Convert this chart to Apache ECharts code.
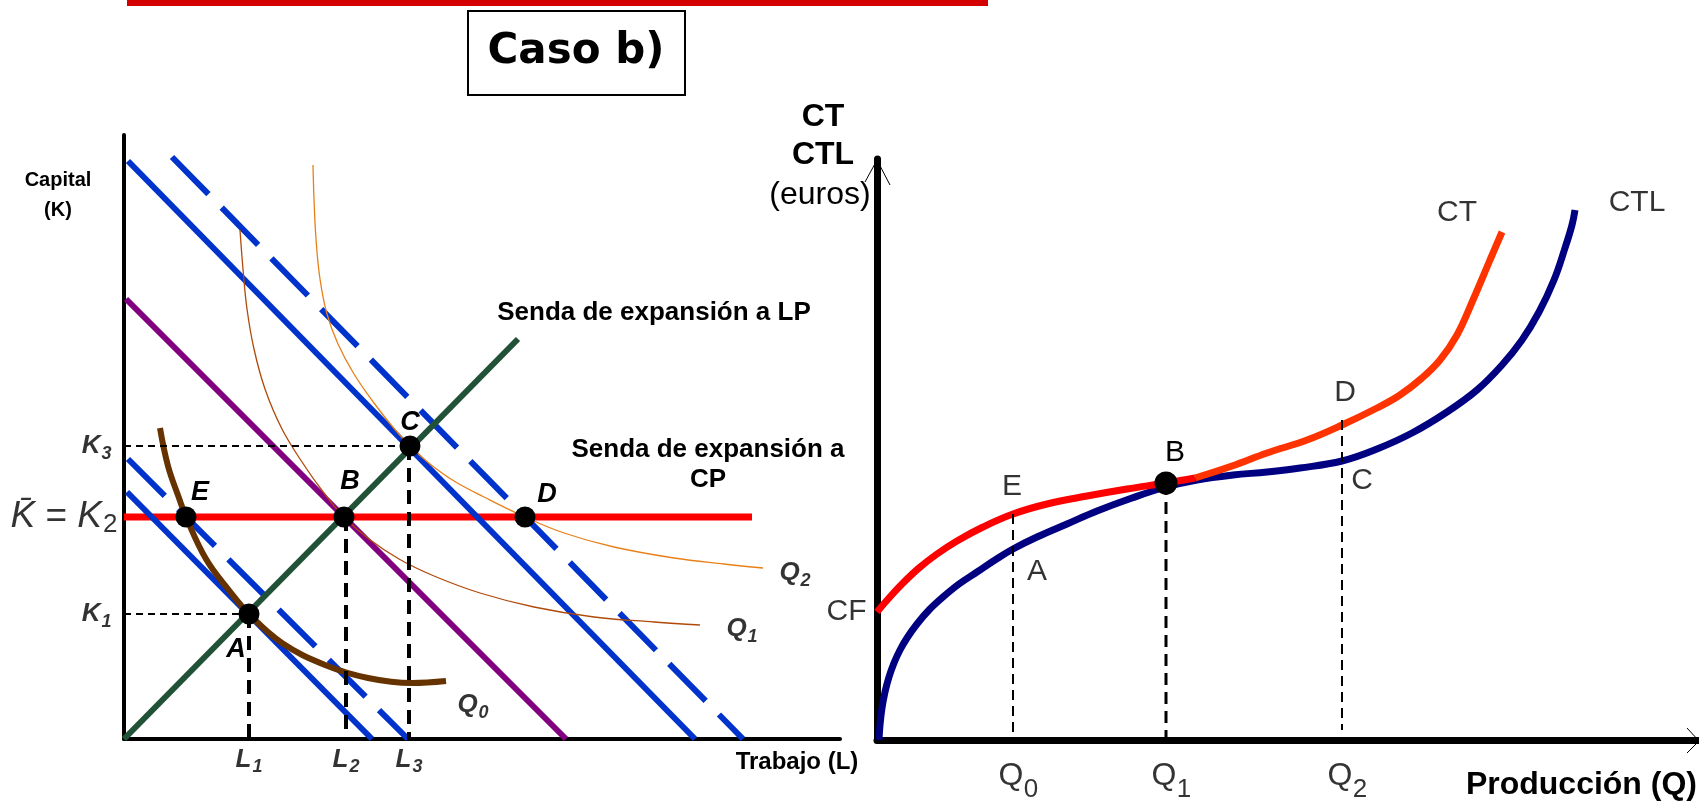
<!DOCTYPE html>
<html><head><meta charset="utf-8">
<script src="https://cdn.jsdelivr.net/npm/echarts@6/dist/echarts.min.js"></script>
<style>html,body{margin:0;padding:0;background:#fff;}#c{width:1699px;height:808px;}</style>
</head><body><div id="c"></div>
<script>
// ================= LEFT PANEL: isoquants / isocosts (L, K units) =================
const L_MAX = 716, K_MAX = 604;
const kTicks = [125, 222, 293];          // K1, K̄ = K2, K3
const lTicks = [125, 222, 285];          // L1, L2, L3
const ptA = [125, 125], ptB = [220, 222], ptC = [286, 293], ptD = [401, 222], ptE = [62, 222];
const sendaLP = [[0, 0], [394, 400]];
const sendaCP = [[0, 222], [628, 222]];
const isocostA = [[3, 247], [248, 0]];
const isocostE = [[4, 280], [284, 0]];
const isocostB = [[2, 440], [442, 0]];
const isocostC = [[4, 578], [571, 0]];
const isocostD = [[48, 582], [619, 0]];
const isoQ0 = [[36,311],[44,273],[55,241],[62,222],[82,180],[104,150],[125,125],[158,96],[201,74],[244,61],[288,56],[322,58]];
const isoQ1 = [[116,509],[119,470],[123,430],[130,390],[141,350],[158,310],[180,274],[200,246],[220,222],[245,200],[275,180],[310,163],[356,146],[410,132],[470,122],[530,117],[576,114]];
const isoQ2 = [[189,574],[190,540],[192,500],[196,460],[203,425],[214,395],[230,365],[250,336],[268,313],[286,293],[306,275],[330,258],[360,242],[401,222],[440,206],[490,192],[550,181],[600,175],[639,171]];

// ================= RIGHT PANEL: cost curves (Q, euros) =================
const Q_MAX = 822, C_MAX = 581;
const qTicks = [136, 289, 465];          // Q0, Q1, Q2
const CF = 128;
const curveCTL = [[2,0],[3,15],[5,32],[8,48],[12,63],[17,77],[23,90],[30,102],[40,116],[52,130],[66,143],[82,156],[100,168],[118,180],[136,191],[160,203],[190,216],[220,229],[255,242],[289,253],[320,260],[356,265],[390,268],[423,272],[465,279],[500,291],[535,307],[570,328],[600,350],[625,375],[645,400],[662,428],[677,460],[688,492],[695,515],[698,530]];
const curveCTred = [[0,128],[12,142],[26,157],[42,172],[60,186],[80,199],[106,213],[136,226],[170,236],[210,244],[250,251],[289,257],[318,262]];
const curveCTorange = [[318,262],[355,274],[390,287],[430,300],[465,315],[500,332],[523,345],[545,362],[563,380],[580,405],[596,440],[613,480],[625,508]];
const rE = [136, 226], rA = [136, 191], rB = [289, 257], rC = [465, 279], rD = [465, 315];

// ================= helpers =================
const SANS = '"Liberation Sans", Arial, sans-serif';
function line(gi, data, color, width, type, extra) {
  return Object.assign({
    type: 'line', xAxisIndex: gi, yAxisIndex: gi, data: data, showSymbol: false, symbol: 'none',
    silent: true, animation: false, clip: false,
    lineStyle: { color: color, width: width, type: type || 'solid', cap: 'butt' }
  }, extra || {});
}
const hidden = { color: 'rgba(0,0,0,0)' };
const leftRich = {
  n: { fontSize: 26, fontWeight: 'bold', fontStyle: 'italic', fontFamily: SANS, color: '#000', verticalAlign: 'middle' },
  s: { fontSize: 18, fontWeight: 'bold', fontStyle: 'italic', fontFamily: SANS, color: '#000', padding: [16, 0, 0, 1], verticalAlign: 'middle' },
  k: { fontSize: 37, fontStyle: 'italic', fontFamily: SANS, color: '#000', verticalAlign: 'middle' },
  e: { fontSize: 37, fontFamily: SANS, color: '#000', verticalAlign: 'middle' },
  s2: { fontSize: 26, fontFamily: SANS, color: '#000', padding: [16, 0, 0, 1], verticalAlign: 'middle' }
};
const ptLabel = { show: true, position: 'inside', fontSize: 27, fontWeight: 'bold', fontStyle: 'italic', fontFamily: SANS, color: '#000' };
const rLabel = { show: true, position: 'inside', fontSize: 30, fontFamily: SANS, color: '#000' };

function lbl(gi, items) {
  return {
    type: 'scatter', xAxisIndex: gi, yAxisIndex: gi, silent: true, animation: false, clip: false,
    symbolSize: 1, itemStyle: hidden, z: 20,
    data: items
  };
}
const dotStyle = { color: '#000', opacity: 1 };
const dashV = [14, 8];
const SMOOTH = 0.4;

const series = [
  // left panel
  line(0, sendaCP, '#FF0000', 7),
  line(0, isocostA, '#0033CC', 6),
  line(0, isocostE, '#0033CC', 6, [52, 19]),
  line(0, isocostC, '#0033CC', 6),
  line(0, isocostD, '#0033CC', 6, [52, 19]),
  line(0, isocostB, '#800080', 6),
  line(0, sendaLP, '#215238', 6),
  line(0, isoQ0, '#663300', 6, null, { smooth: SMOOTH }),
  line(0, isoQ1, '#B04A0A', 1.3, null, { smooth: SMOOTH }),
  line(0, isoQ2, '#E8801A', 1.3, null, { smooth: SMOOTH }),
  line(0, [[0, ptC[1]], ptC], '#000', 2, [7, 5]),
  line(0, [[0, ptA[1]], ptA], '#000', 2, [7, 5]),
  line(0, [[lTicks[0], ptA[1]], [lTicks[0], 0]], '#000', 4, dashV),
  line(0, [[lTicks[1], ptB[1]], [lTicks[1], 0]], '#000', 4, dashV),
  line(0, [[lTicks[2], ptC[1]], [lTicks[2], 0]], '#000', 4, dashV),
  {
    type: 'scatter', xAxisIndex: 0, yAxisIndex: 0, silent: true, animation: false, clip: false, z: 15,
    symbolSize: 21, itemStyle: dotStyle,
    data: [
      { value: ptE, label: Object.assign({}, ptLabel, { formatter: 'E', offset: [14, -24] }) },
      { value: ptB, label: Object.assign({}, ptLabel, { formatter: 'B', offset: [6, -35] }) },
      { value: ptC, label: Object.assign({}, ptLabel, { formatter: 'C', offset: [0, -23] }) },
      { value: ptD, label: Object.assign({}, ptLabel, { formatter: 'D', offset: [22, -22] }) },
      { value: ptA, label: Object.assign({}, ptLabel, { formatter: 'A', offset: [-13, 36] }) }
    ]
  },
  lbl(0, [
    { value: [0, kTicks[0]], label: { show: true, position: 'left', distance: 12, formatter: '{n|K}{s|1}', rich: leftRich } },
    { value: [0, kTicks[1]], label: { show: true, position: 'left', distance: 6, formatter: '{k|K\u0304}{e| = }{k|K}{s2|2}', rich: leftRich } },
    { value: [0, kTicks[2]], label: { show: true, position: 'left', distance: 12, formatter: '{n|K}{s|3}', rich: leftRich } },
    { value: [lTicks[0], 0], label: { show: true, position: 'bottom', distance: 3, formatter: '{n|L}{s|1}', rich: leftRich } },
    { value: [lTicks[1], 0], label: { show: true, position: 'bottom', distance: 3, formatter: '{n|L}{s|2}', rich: leftRich } },
    { value: [lTicks[2], 0], label: { show: true, position: 'bottom', distance: 3, formatter: '{n|L}{s|3}', rich: leftRich } },
    { value: isoQ0[isoQ0.length - 1], label: { show: true, position: 'inside', offset: [27, 24], formatter: '{n|Q}{s|0}', rich: leftRich } },
    { value: isoQ1[isoQ1.length - 1], label: { show: true, position: 'inside', offset: [42, 4], formatter: '{n|Q}{s|1}', rich: leftRich } },
    { value: isoQ2[isoQ2.length - 1], label: { show: true, position: 'inside', offset: [32, 5], formatter: '{n|Q}{s|2}', rich: leftRich } }
  ]),

  // right panel
  line(1, curveCTL, '#000080', 7, null, { smooth: SMOOTH }),
  line(1, curveCTred, '#FF0000', 7, null, { smooth: SMOOTH }),
  line(1, curveCTorange, '#FF3300', 7, null, { smooth: SMOOTH }),
  line(1, [rE, [qTicks[0], 0]], '#000', 2, [10, 6]),
  line(1, [rB, [qTicks[1], 0]], '#000', 3, [12, 7]),
  line(1, [[qTicks[2], rD[1] + 5], [qTicks[2], 10]], '#000', 2, [10, 6]),
  {
    type: 'scatter', xAxisIndex: 1, yAxisIndex: 1, silent: true, animation: false, clip: false, z: 15,
    symbolSize: 23, itemStyle: dotStyle,
    data: [{ value: rB, label: Object.assign({}, rLabel, { formatter: 'B', offset: [9, -30] }) }]
  },
  lbl(1, [
    { value: rE, label: Object.assign({}, rLabel, { formatter: 'E', offset: [-1, -27] }) },
    { value: rA, label: Object.assign({}, rLabel, { formatter: 'A', offset: [24, 23] }) },
    { value: rD, label: Object.assign({}, rLabel, { formatter: 'D', offset: [3, -32] }) },
    { value: rC, label: Object.assign({}, rLabel, { formatter: 'C', offset: [20, 20] }) },
    { value: curveCTorange[curveCTorange.length - 1], label: Object.assign({}, rLabel, { formatter: 'CT', offset: [-45, -19] }) },
    { value: curveCTL[curveCTL.length - 1], label: Object.assign({}, rLabel, { formatter: 'CTL', offset: [62, -7] }) },
    { value: [0, CF], label: { show: true, position: 'left', distance: 10, formatter: 'CF', fontSize: 30, fontFamily: SANS, color: '#000' } }
  ].concat(qTicks.map(function (q) {
    return { value: [q, 0], label: { show: true, position: 'inside', offset: [-2, 36], formatter: 'Q', fontSize: 32, fontFamily: SANS, color: '#000' } };
  })).concat(qTicks.map(function (q, i) {
    return { value: [q, 0], label: { show: true, position: 'inside', offset: [18, 50], formatter: String(i), fontSize: 26, fontFamily: SANS, color: '#000' } };
  })))
];

function axis(gi, max, w) {
  return {
    gridIndex: gi, type: 'value', min: 0, max: max,
    axisLine: { show: true, onZero: false, lineStyle: { color: '#000', width: w } },
    axisTick: { show: false }, axisLabel: { show: false }, splitLine: { show: false }
  };
}

function txt(text, x, y, font, align) {
  return {
    type: 'text', silent: true, z: 100,
    style: { text: text, x: x, y: y, font: font, fill: '#000',
      textAlign: align || 'center', align: align || 'center',
      textVerticalAlign: 'middle', verticalAlign: 'middle' }
  };
}

const option = {
  animation: false,
  backgroundColor: '#fff',
  grid: [
    { left: 124, top: 135, width: L_MAX, height: K_MAX },
    { left: 877, top: 159, width: Q_MAX, height: C_MAX }
  ],
  xAxis: [axis(0, L_MAX, 4), axis(1, Q_MAX, 7)],
  yAxis: [axis(0, K_MAX, 4), axis(1, C_MAX, 7)],
  series: series,
  graphic: [
    { type: 'rect', silent: true, shape: { x: 127, y: 0, width: 861, height: 6 }, style: { fill: '#D40000' } },
    { type: 'rect', silent: true, shape: { x: 468, y: 11, width: 217, height: 84 }, style: { fill: 'none', stroke: '#000', lineWidth: 2 } },
    txt('Caso b)', 576, 52, 'bold 42px "DejaVu Sans", sans-serif'),
    txt('Capital', 58, 180, 'bold 20px ' + SANS),
    txt('(K)', 58, 210, 'bold 20px ' + SANS),
    txt('Trabajo (L)', 797, 762, 'bold 24px ' + SANS),
    txt('Senda de expansión a LP', 654, 313, 'bold 26px ' + SANS),
    txt('Senda de expansión a', 708, 450, 'bold 26px ' + SANS),
    txt('CP', 708, 480, 'bold 26px ' + SANS),
    txt('CT', 823, 117, 'bold 32px ' + SANS),
    txt('CTL', 823, 155, 'bold 32px ' + SANS),
    txt('(euros)', 820, 195, '32px ' + SANS),
    txt('Producción (Q)', 1697, 785, 'bold 32px ' + SANS, 'right'),
    { type: 'polyline', silent: true, shape: { points: [[865, 182], [877, 160], [890, 185]] }, style: { stroke: '#000', lineWidth: 1, fill: 'none' } },
    { type: 'polyline', silent: true, shape: { points: [[1687, 728], [1699, 741], [1687, 753]] }, style: { stroke: '#000', lineWidth: 1, fill: 'none' } }
  ]
};

const chart = echarts.init(document.getElementById('c'), null, { renderer: 'canvas' });
chart.setOption(option);
</script>
</body></html>
